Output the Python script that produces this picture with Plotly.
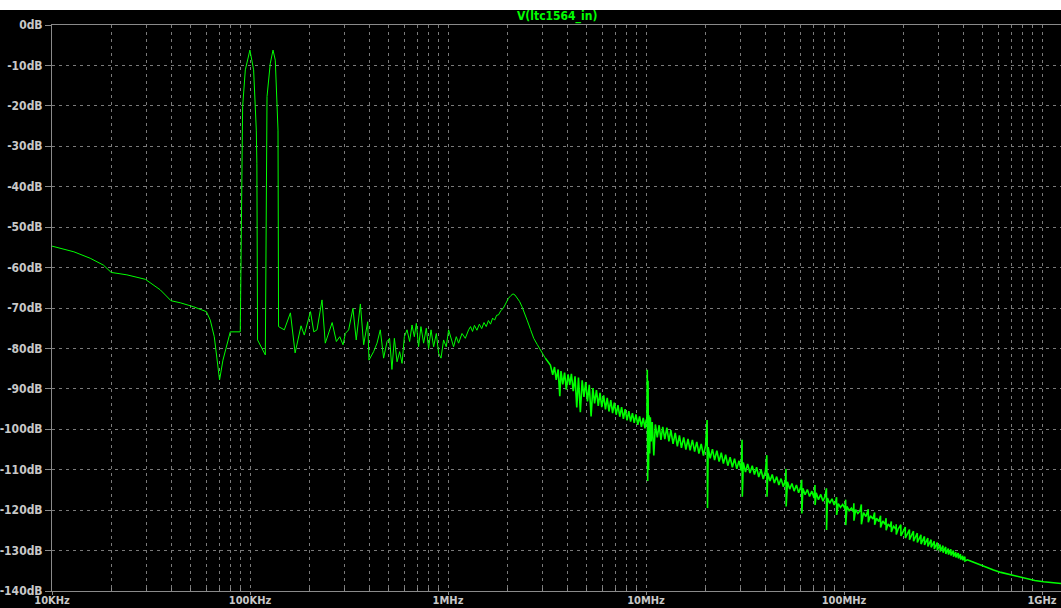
import plotly.graph_objects as go

# ---------------- data ----------------
# 10 kHz .. 90 kHz  (frequency in kHz, level in dB)
low_khz = [10.0, 12.9, 15.6, 18.2, 19.9, 23.9, 29.6, 35.2, 37.4, 39.9, 44.4, 51.9,
           60.2, 63.0, 66.0, 70.2, 73.0, 79.5, 89.3]
low_db = [-54.7, -56.1, -57.7, -59.4, -61.2, -61.8, -62.9, -65.5, -66.8, -68.2, -68.7, -69.7,
          -70.9, -73.0, -77.1, -87.8, -82.9, -75.9, -75.9]

# the two input tones around 100 kHz and 130 kHz
tone_khz = [90.1, 90.3, 91.1, 91.8, 94.7, 99.9, 104.3, 107.6, 108.3, 109.2, 119.5,
            121.9, 126.6, 130.7, 134.2, 138.5, 139.4, 149.0]
tone_db = [-61.8, -50.7, -34.2, -20.2, -11.1, -6.2, -11.1, -26.0, -34.2, -77.9, -81.6,
           -17.7, -9.5, -6.2, -8.7, -26.0, -74.6, -75.4]

# 150 kHz .. 1 MHz
mid_khz = [160, 169, 181, 188, 202, 210, 218, 231, 240, 260,
           273, 284, 295, 303, 315, 331, 344, 361, 375, 393,
           399, 421, 438, 455, 473, 492, 507, 521, 536, 553,
           570, 586, 602, 621, 640, 658, 676, 692, 710, 730,
           753, 777, 798, 821, 846, 873, 897, 922, 950, 980]
mid_db = [-71.2, -81.1, -74.4, -76.7, -70.9, -75.9, -75.4, -68.0, -78.7, -73.6,
          -78.3, -77.1, -79.1, -76.3, -75.4, -70.1, -77.9, -69.0, -79.1, -73.4,
          -82.9, -80.8, -78.7, -75.4, -82.4, -78.3, -77.5, -85.2, -77.5, -83.3,
          -80.8, -83.7, -77.1, -75.4, -78.3, -74.2, -77.1, -73.8, -79.6, -74.6,
          -78.7, -75.0, -80.0, -75.4, -79.6, -76.3, -81.2, -82.4, -77.9, -79.6]

# 1 MHz .. 3.1 MHz (resonance peak)
peak_mhz = [1.007, 1.035, 1.067, 1.101, 1.131, 1.177, 1.223, 1.271, 1.30, 1.33,
            1.36, 1.40, 1.44, 1.48, 1.52, 1.56, 1.60, 1.64, 1.68, 1.72,
            1.76, 1.80, 1.85, 1.90, 1.95, 2.02, 2.08, 2.13, 2.18, 2.23,
            2.30, 2.365, 2.44, 2.51, 2.61, 2.71, 2.82, 2.93, 3.10]
peak_db = [-75.4, -77.5, -79.6, -77.1, -78.7, -76.3, -77.5, -75.4, -74.6, -75.8,
           -74.3, -75.5, -74.0, -75.1, -73.6, -74.6, -73.1, -74.0, -72.5, -73.0,
           -71.8, -71.7, -70.6, -70.1, -68.9, -67.6, -66.9, -66.5, -66.8, -67.4,
           -68.4, -69.7, -71.3, -73.0, -75.3, -77.5, -79.0, -80.4, -82.4]

# 3.3 MHz .. 10.6 MHz (noisy band + 10 MHz spur)
noise_mhz = [3.29, 3.38, 3.45, 3.52, 3.60, 3.67, 3.72, 3.80, 3.88, 3.96,
             4.04, 4.12, 4.20, 4.29, 4.38, 4.47, 4.56, 4.66, 4.76, 4.86,
             4.96, 5.06, 5.17, 5.28, 5.39, 5.50, 5.62, 5.74, 5.86, 5.98,
             6.11, 6.24, 6.37, 6.50, 6.64, 6.78, 6.92, 7.07, 7.22, 7.37,
             7.53, 7.69, 7.85, 8.02, 8.19, 8.36, 8.54, 8.72, 8.90, 9.09,
             9.28, 9.48, 9.68, 9.88, 10.02, 10.10, 10.15, 10.20, 10.24, 10.30,
             10.36, 10.44, 10.52, 10.62]
noise_db = [-84.1, -86.5, -84.6, -87.8, -85.2, -91.8, -85.6, -88.9, -86.0, -90.2,
            -86.4, -89.0, -86.3, -90.6, -86.9, -94.6, -87.2, -95.8, -87.9, -92.0,
            -88.3, -93.1, -89.0, -96.8, -89.8, -93.6, -90.3, -94.2, -91.0, -94.5,
            -91.6, -95.1, -92.2, -95.6, -92.8, -96.0, -93.4, -96.4, -94.0, -96.9,
            -94.5, -97.4, -95.0, -97.8, -95.5, -98.1, -96.0, -98.4, -96.3, -98.9,
            -96.8, -99.4, -97.2, -99.8, -97.6, -98.5, -85.3, -112.8, -88.0, -110.0,
            -96.5, -106.0, -97.0, -103.0]

# 10.7 MHz .. 190 MHz (roll-off with harmonic spurs)
spur_mhz = [10.75, 10.95, 11.15, 11.40, 11.65, 11.90, 12.15, 12.45, 12.75, 13.05,
            13.35, 13.70, 14.05, 14.40, 14.75, 15.10, 15.50, 15.90, 16.30, 16.70,
            17.15, 17.60, 18.05, 18.50, 19.00, 19.50, 20.00, 20.35, 20.45, 20.60,
            21.10, 21.65, 22.20, 22.80, 23.40, 24.00, 24.60, 25.25, 25.90, 26.60,
            27.30, 28.00, 28.75, 29.50, 30.25, 30.55, 30.65, 31.00, 31.80, 32.60,
            33.50, 34.40, 35.30, 36.20, 37.10, 38.10, 39.10, 40.10, 40.75, 40.85,
            41.20, 42.30, 43.40, 44.50, 45.70, 46.90, 48.10, 49.40, 50.60, 50.95,
            51.05, 51.80, 53.20, 54.60, 56.00, 57.50, 59.00, 60.50, 61.15, 61.25,
            62.00, 63.60, 65.30, 67.00, 68.80, 70.60, 71.35, 71.45, 72.40, 74.30,
            76.30, 78.30, 80.30, 81.55, 81.65, 82.50, 84.70, 86.90, 89.20, 91.00,
            91.75, 91.85, 93.60, 96.00, 98.50, 101.0, 101.95, 102.05, 103.5, 106.2,
            109.0, 111.5, 112.15, 112.25, 114.5, 117.5, 120.5, 122.35, 122.45, 125.5,
            129.0, 132.55, 132.65, 136.0, 140.0, 142.75, 142.85, 146.0, 150.0, 152.95,
            153.05, 157.0, 161.0, 163.15, 163.25, 167.0, 171.0, 173.35, 173.45, 178.0,
            183.0, 183.55, 183.65, 188.0]
spur_db = [-98.2, -106.5, -98.8, -102.0, -99.0, -102.6, -99.4, -102.4, -99.6, -103.0,
           -100.2, -103.6, -100.9, -104.2, -101.5, -104.6, -102.0, -105.0, -102.4, -105.2,
           -102.6, -105.5, -103.1, -106.0, -103.6, -106.5, -104.0, -97.7, -119.5, -104.4,
           -107.2, -104.9, -107.6, -105.3, -108.0, -105.8, -108.5, -106.3, -109.0, -106.9,
           -109.4, -107.3, -109.8, -107.8, -110.2, -102.6, -116.7, -108.2, -110.6, -108.6,
           -110.8, -109.0, -111.2, -109.4, -111.8, -110.0, -112.3, -110.4, -106.4, -116.7,
           -110.8, -112.8, -111.2, -113.3, -111.7, -113.8, -112.2, -114.2, -112.6, -109.8,
           -119.1, -113.0, -114.8, -113.4, -115.3, -113.8, -115.7, -114.2, -112.5, -120.8,
           -114.6, -116.2, -114.9, -116.6, -115.3, -117.0, -113.8, -118.7, -115.7, -117.4,
           -116.1, -117.8, -116.5, -114.6, -124.9, -117.0, -118.3, -117.2, -118.7, -117.6,
           -116.8, -121.2, -118.4, -119.3, -118.6, -119.6, -117.4, -123.7, -119.1, -120.1,
           -119.5, -120.4, -118.3, -122.6, -119.9, -120.8, -120.2, -118.6, -123.5, -120.6,
           -121.6, -119.8, -123.0, -121.4, -122.2, -120.6, -123.6, -122.0, -122.8, -121.4,
           -124.3, -122.7, -123.5, -122.0, -125.0, -123.4, -124.1, -122.8, -125.4, -124.0,
           -124.7, -123.5, -126.0, -124.6]

# 190 MHz .. 410 MHz (small harmonic spurs)
hf_mhz = [193.7, 193.9, 198.9, 203.9, 204.1, 209.1, 214.1, 214.3, 219.3, 224.3,
          224.5, 229.5, 234.5, 234.7, 239.7, 244.7, 244.9, 249.9, 254.9, 255.1,
          260.1, 265.1, 265.3, 270.3, 275.3, 275.5, 280.5, 285.5, 285.7, 290.7,
          295.7, 295.9, 300.9, 305.9, 306.1, 311.1, 316.1, 316.3, 321.3, 326.3,
          326.5, 331.5, 336.5, 336.7, 341.7, 346.7, 346.9, 351.9, 356.9, 357.1,
          362.1, 367.1, 367.3, 372.3, 377.3, 377.5, 382.5, 387.5, 387.7, 392.7,
          397.7, 397.9, 402.9, 407.9, 408.1]
hf_db = [-123.6, -126.4, -125.2, -124.2, -126.9, -125.7, -124.8, -127.3, -126.2, -125.2,
         -127.7, -126.6, -125.7, -128.0, -127.0, -126.1, -128.4, -127.3, -126.5, -128.6,
         -127.7, -126.9, -129.0, -128.0, -127.3, -129.2, -128.4, -127.7, -129.6, -128.8,
         -128.0, -129.9, -129.1, -128.5, -130.2, -129.4, -128.8, -130.5, -129.7, -129.1,
         -130.8, -130.0, -129.5, -131.0, -130.3, -129.7, -131.2, -130.6, -130.0, -131.5,
         -130.8, -130.4, -131.7, -131.1, -130.6, -131.9, -131.4, -130.9, -132.2, -131.6,
         -131.3, -132.4, -131.9, -131.5, -132.6]

# 420 MHz .. 1.25 GHz (smooth tail)
tail_mhz = [420, 435, 450, 470, 500, 530, 569, 620, 692, 760, 840, 920, 1019, 1120, 1250]
tail_db = [-132.3, -132.6, -132.9, -133.3, -133.8, -134.3, -134.8, -135.4, -136.0,
           -136.5, -137.0, -137.4, -137.7, -137.9, -138.15]

# axis labels
x_tick_hz = [1e4, 1e5, 1e6, 1e7, 1e8, 1e9]
x_tick_text = ["10KHz", "100KHz", "1MHz", "10MHz", "100MHz", "1GHz"]
y_tick_db = [0, -10, -20, -30, -40, -50, -60, -70, -80, -90, -100, -110, -120, -130, -140]
y_tick_text = ["0dB", "-10dB", "-20dB", "-30dB", "-40dB", "-50dB", "-60dB", "-70dB",
               "-80dB", "-90dB", "-100dB", "-110dB", "-120dB", "-130dB", "-140dB"]
minor_steps = [2, 3, 4, 5, 6, 7, 8, 9]
trace_name = "V(ltc1564_in)"


# ---------------- assemble ----------------
def join(pairs):
    fx, fy = [], []
    for fs, ds, unit in pairs:
        assert len(fs) == len(ds), (len(fs), len(ds))
        fx += [f * unit for f in fs]
        fy += list(ds)
    return fx, fy


# thin part (below the noise floor region) and the dense noisy part
thin_x, thin_y = join([(low_khz, low_db, 1e3), (tone_khz, tone_db, 1e3),
                       (mid_khz, mid_db, 1e3), (peak_mhz, peak_db, 1e6)])
dense_x, dense_y = join([(noise_mhz, noise_db, 1e6), (spur_mhz, spur_db, 1e6),
                         (hf_mhz, hf_db, 1e6), (tail_mhz, tail_db, 1e6)])
dense_x = thin_x[-1:] + dense_x
dense_y = thin_y[-1:] + dense_y

minor_hz = [m * d for d in x_tick_hz[:-1] for m in minor_steps]

W, H = 1061, 608
ML, MR, MT, MB = 52, 0, 25, 17
PW, PH = W - ML - MR, H - MT - MB
FONT = "Liberation Sans Narrow, DejaVu Sans Condensed, Arial Narrow, sans-serif"
GRID = "#7a7a7a"
AXIS = "#8a8a8a"
TXT = "#c8c8c8"
GREEN = "#00ff00"

fig = go.Figure()
fig.add_trace(go.Scatter(x=thin_x, y=thin_y, mode="lines",
                         line=dict(color=GREEN, width=1), hoverinfo="skip"))
fig.add_trace(go.Scatter(x=dense_x, y=dense_y, mode="lines",
                         line=dict(color=GREEN, width=1.6), hoverinfo="skip"))

fig.update_layout(
    width=W, height=H, margin=dict(l=ML, r=MR, t=MT, b=MB, pad=0, autoexpand=False),
    paper_bgcolor="black", plot_bgcolor="black", showlegend=False,
    font=dict(family=FONT, size=12, color=TXT, weight="bold"),
)

fig.update_xaxes(
    type="log", range=[4, 4 + PW / 198.0], automargin=False,
    tickmode="array", tickvals=x_tick_hz, ticktext=x_tick_text,
    ticks="outside", ticklen=3, tickcolor=AXIS, tickwidth=1, ticklabelstandoff=-4,
    tickfont=dict(family=FONT, size=11, color=TXT, weight="bold"),
    showline=True, linecolor=AXIS, linewidth=1, mirror=True,
    showgrid=True, gridcolor=GRID, gridwidth=1, griddash="3px,4px",
    minor=dict(tickmode="array", tickvals=minor_hz, showgrid=True, gridcolor=GRID,
               gridwidth=1, griddash="3px,4px", ticks="inside", ticklen=3, tickcolor=AXIS),
    zeroline=False, fixedrange=True,
)
fig.update_yaxes(
    range=[-140, 0], automargin=False,
    tickmode="array", tickvals=y_tick_db, ticktext=y_tick_text,
    ticks="outside", ticklen=6, tickcolor=AXIS, tickwidth=1,
    tickfont=dict(family=FONT, size=12, color=TXT, weight="bold"),
    showline=True, linecolor=AXIS, linewidth=1, mirror=False,
    showgrid=True, gridcolor=GRID, gridwidth=1, griddash="3px,4px",
    zeroline=False, fixedrange=True,
)

# white strip at the very top of the window
fig.add_shape(type="rect", xref="paper", yref="paper",
              x0=-ML / PW - 0.01, x1=1.01, y0=1 + (MT - 10) / PH, y1=1 + MT / PH + 0.01,
              fillcolor="white", line=dict(width=0), layer="above")

fig.add_annotation(text=trace_name, xref="paper", yref="paper", x=0.5,
                   y=1 + (MT - 16.7) / PH, yanchor="middle", xanchor="center",
                   showarrow=False,
                   font=dict(family=FONT, size=12, color=GREEN, weight="bold"))

fig.write_html("out.html", config={"displayModeBar": False},
               post_script="document.body.style.margin='0';document.body.style.overflow='hidden';")
